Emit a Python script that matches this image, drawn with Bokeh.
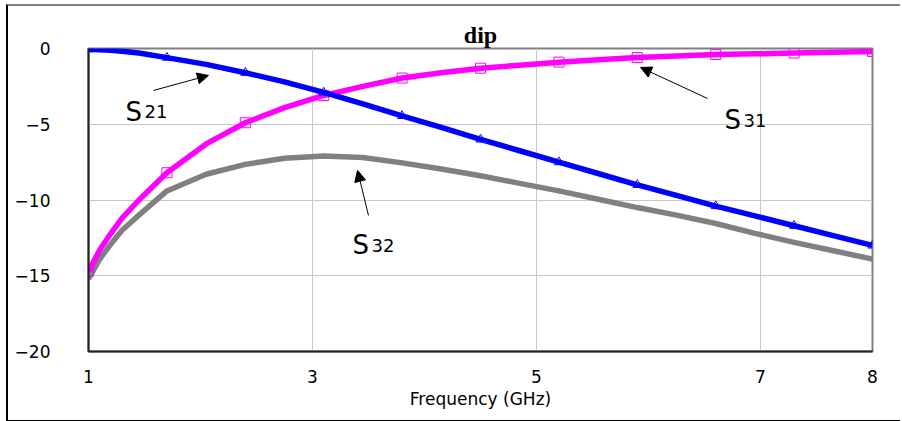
from bokeh.plotting import figure
from bokeh.models import Label, Arrow, NormalHead, FixedTicker, Range1d
from bokeh.embed import file_html
from bokeh.resources import INLINE

# ---- data ----
freq = [1.0, 1.1, 1.2, 1.3, 1.45, 1.7, 2.05, 2.4, 2.75, 3.1, 3.45, 3.8, 4.15, 4.5,
        4.85, 5.2, 5.55, 5.9, 6.25, 6.6, 6.95, 7.3, 7.65, 8.0]
s21 = [-0.05, -0.08, -0.12, -0.18, -0.3, -0.6, -1.05, -1.6, -2.2, -2.9, -3.65, -4.45,
       -5.2, -6.0, -6.75, -7.5, -8.25, -9.0, -9.7, -10.4, -11.05, -11.7, -12.35, -13.0]
s31 = [-14.7, -13.3, -12.2, -11.2, -10.0, -8.2, -6.3, -4.9, -3.9, -3.1, -2.5, -1.95,
       -1.6, -1.3, -1.1, -0.9, -0.75, -0.6, -0.5, -0.4, -0.35, -0.3, -0.25, -0.2]
s32 = [-15.2, -13.9, -12.9, -12.0, -11.0, -9.4, -8.3, -7.65, -7.25, -7.1, -7.2, -7.55,
       -7.95, -8.4, -8.9, -9.4, -9.95, -10.5, -11.0, -11.55, -12.2, -12.8, -13.35, -13.9]
marker_freq = [1.0, 1.7, 2.4, 3.1, 3.8, 4.5, 5.2, 5.9, 6.6, 7.3, 8.0]
x_ticks = [1, 3, 5, 7, 8]
y_ticks = [0, -5, -10, -15, -20]
title_text = "dip"
x_label = "Frequency (GHz)"

idx = [freq.index(f) for f in marker_freq]

FONT = "DejaVu Sans"

p = figure(width=894, height=418, x_range=Range1d(1, 8), y_range=Range1d(-20, 0),
           output_backend="svg", toolbar_location=None,
           min_border_left=80, min_border_right=30, min_border_top=42, min_border_bottom=73,
           margin=(4, 0, 0, 6),
           styles={"border-left": "2px solid black", "border-top": "2px solid #808080",
                   "border-bottom": "2px solid black"})
p.background_fill_color = "white"
p.border_fill_color = "white"
p.outline_line_color = "#808080"
p.outline_line_width = 2

# title
p.title.text = title_text
p.title.align = "center"
p.title.offset = -7
p.title.text_font = "Liberation Serif"
p.title.text_font_style = "bold"
p.title.text_font_size = "24px"
p.title.text_color = "black"
p.title.standoff = 1

# axes
p.xaxis.ticker = FixedTicker(ticks=x_ticks)
p.yaxis.ticker = FixedTicker(ticks=y_ticks)
for ax in (p.xaxis, p.yaxis):
    ax.axis_line_color = "#222222"
    ax.axis_line_width = 2
    ax.major_tick_out = 0
    ax.major_tick_in = 0
    ax.minor_tick_out = 0
    ax.minor_tick_in = 0
    ax.major_label_text_font = FONT
    ax.major_label_text_font_size = "17px"
    ax.major_label_text_color = "black"
p.yaxis.major_label_standoff = 38
p.xaxis.major_label_standoff = 18
p.xaxis.axis_label = x_label
p.xaxis.axis_label_text_font = FONT
p.xaxis.axis_label_text_font_size = "17px"
p.xaxis.axis_label_text_font_style = "normal"
p.xaxis.axis_label_text_color = "black"
p.xaxis.axis_label_standoff = 3

p.xgrid.ticker = FixedTicker(ticks=[3, 5, 7])
p.ygrid.ticker = FixedTicker(ticks=[-5, -10, -15])
p.grid.grid_line_color = "#c8c8c8"
p.grid.grid_line_width = 1

# series
p.line(freq, s32, line_color="#808080", line_width=5.5)
p.scatter([freq[i] for i in idx], [s32[i] for i in idx], marker="cross", size=5,
          line_color="#808080", line_width=1)
p.line(freq, s31, line_color="#ff00ff", line_width=5.5)
p.scatter([freq[i] for i in idx], [s31[i] for i in idx], marker="square", size=10,
          line_color="#ff00ff", fill_color=None, line_width=1)
p.line(freq, s21, line_color="#0000ff", line_width=5.5)
p.scatter([freq[i] for i in idx], [s21[i] for i in idx], marker="triangle", size=9,
          line_color="#0000ff", fill_color=None, line_width=1)

# annotations
def ann(name, sub, x, y, xs, ys, xe, ye):
    p.add_layout(Label(x=x, y=y, x_offset=2, text=name, text_baseline="alphabetic",
                       text_font=FONT, text_font_size="26px", text_color="black"))
    p.add_layout(Label(x=x, y=y, x_offset=21, text=sub, text_baseline="alphabetic",
                       text_font=FONT, text_font_size="18px", text_color="black"))
    p.add_layout(Arrow(x_start=xs, y_start=ys, x_end=xe, y_end=ye, line_color="black",
                       line_width=1,
                       end=NormalHead(size=11, fill_color="black", line_color="black")))

ann("S", "21", 1.3125, -4.16, 1.58, -2.77, 2.071, -1.78)
ann("S", "31", 6.661, -4.75, 6.527, -3.30, 5.929, -1.25)
ann("S", "32", 3.339, -13.0, 3.5, -11.02, 3.402, -8.05)

open("out.html", "w").write(file_html(p, INLINE))
